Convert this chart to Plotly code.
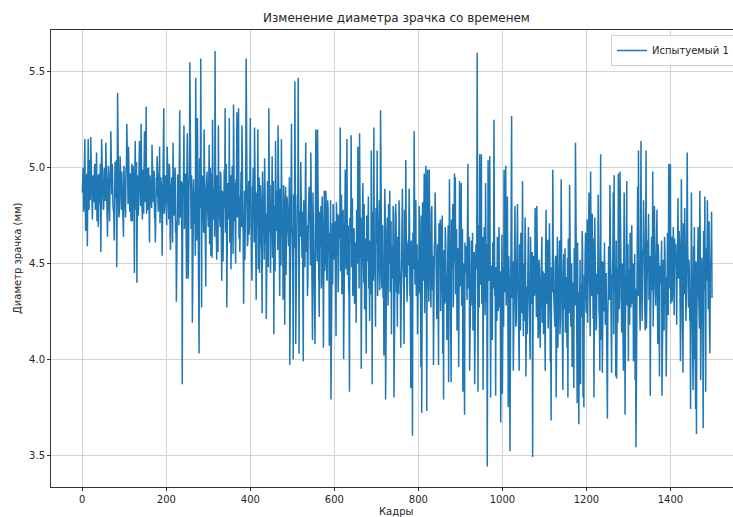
import plotly.graph_objects as go

# Pupil diameter (mm) at even frames (0, 2, 4, ...)
pupil_even = [
    4.87, 5.00, 4.80, 5.15, 4.67, 4.95, 4.59, 5.15, 4.78, 4.98, 5.16, 4.85, 4.73, 4.96, 4.82, 5.02, 4.79, 5.08, 4.86, 4.69, 4.97, 4.84, 4.56, 5.15, 4.90,
    4.78, 4.99, 4.83, 5.13, 4.88, 4.64, 5.01, 4.80, 4.94, 5.19, 4.86, 4.99, 4.77, 4.62, 5.03, 4.85, 4.48, 5.39, 4.90, 4.76, 5.06, 4.82, 4.98, 4.87, 4.64,
    4.95, 4.81, 5.00, 5.23, 4.84, 5.11, 4.90, 4.97, 4.72, 5.02, 4.86, 4.93, 4.45, 5.14, 4.83, 4.40, 4.96, 4.79, 5.14, 4.88, 5.23, 4.81, 4.99, 4.76, 5.19,
    4.85, 5.32, 4.92, 4.78, 5.00, 4.61, 4.94, 4.82, 5.12, 4.87, 4.98, 4.74, 4.61, 4.95, 5.06, 4.83, 4.97, 5.11, 4.80, 4.92, 4.54, 4.99, 5.31, 4.84, 4.96,
    4.78, 5.11, 4.86, 4.73, 4.99, 4.57, 4.90, 4.81, 5.13, 4.75, 4.95, 4.66, 4.30, 4.88, 4.96, 4.70, 5.30, 4.79, 4.93, 3.87, 4.85, 5.22, 4.72, 4.97, 4.42,
    5.18, 4.42, 4.90, 5.55, 4.68, 4.96, 4.19, 4.92, 4.71, 4.88, 5.47, 4.62, 5.26, 4.78, 4.03, 4.84, 5.57, 4.27, 4.95, 4.66, 5.20, 4.74, 4.38, 4.91, 4.80,
    4.69, 5.12, 4.82, 4.54, 4.97, 5.25, 4.73, 4.89, 5.61, 4.79, 4.52, 4.93, 5.22, 4.76, 4.69, 4.95, 4.41, 4.86, 4.70, 4.99, 5.31, 4.74, 4.27, 4.92, 4.81,
    5.26, 4.68, 4.47, 4.90, 4.77, 5.33, 4.72, 4.55, 4.94, 5.29, 4.80, 5.31, 4.85, 4.66, 4.98, 5.22, 4.71, 4.29, 4.88, 4.75, 5.57, 4.79, 4.61, 4.93, 4.70,
    5.26, 4.77, 4.41, 4.89, 4.68, 5.21, 4.74, 4.31, 4.86, 5.20, 4.72, 4.45, 4.91, 4.63, 4.24, 4.84, 4.69, 5.05, 4.60, 4.21, 4.87, 4.73, 5.31, 4.66, 4.45,
    4.79, 5.06, 4.62, 4.13, 4.80, 5.14, 4.67, 4.88, 5.22, 4.70, 4.33, 4.85, 5.15, 4.64, 4.31, 4.78, 4.18, 4.90, 4.59, 4.83, 4.66, 4.76, 3.97, 4.72, 5.23,
    4.68, 4.00, 4.79, 5.45, 4.08, 4.71, 4.86, 5.47, 4.03, 4.64, 5.03, 4.55, 4.77, 3.99, 4.69, 4.48, 5.13, 4.61, 4.33, 4.74, 4.90, 4.52, 5.08, 4.58, 4.10,
    4.71, 4.49, 4.08, 5.20, 4.62, 5.20, 4.57, 4.22, 4.66, 4.80, 4.44, 4.69, 4.06, 4.88, 4.50, 4.87, 4.41, 4.83, 4.55, 4.07, 4.63, 3.79, 4.58, 4.39, 4.80,
    4.52, 4.67, 4.12, 4.60, 4.76, 4.45, 4.70, 5.21, 4.51, 4.34, 4.66, 4.00, 4.58, 4.99, 4.47, 5.15, 4.55, 4.38, 3.83, 4.62, 5.17, 4.49, 4.33, 4.68, 4.29,
    4.61, 4.19, 4.57, 5.11, 4.46, 5.18, 4.53, 3.95, 4.60, 4.92, 4.40, 4.26, 4.63, 4.03, 4.51, 4.64, 4.37, 4.20, 4.58, 5.09, 3.87, 4.55, 5.21, 4.44, 4.17,
    4.60, 5.09, 4.48, 4.65, 4.36, 5.30, 4.47, 4.59, 4.32, 4.02, 4.89, 3.79, 4.55, 4.74, 4.28, 4.50, 4.88, 4.42, 4.13, 4.57, 4.80, 3.80, 4.49, 4.81, 4.35,
    4.17, 4.56, 4.83, 4.40, 4.06, 4.61, 4.89, 4.45, 4.08, 4.58, 5.04, 4.50, 4.37, 4.62, 4.89, 4.33, 3.85, 4.54, 3.60, 4.47, 5.19, 4.39, 4.83, 4.55, 4.13,
    4.52, 4.80, 4.34, 3.96, 3.72, 4.82, 4.41, 4.97, 4.48, 5.01, 3.73, 4.99, 4.44, 4.99, 4.51, 4.27, 4.80, 4.36, 3.97, 4.58, 4.87, 4.43, 4.21, 4.60, 3.97,
    4.49, 4.73, 4.38, 4.73, 4.03, 3.79, 4.52, 4.69, 4.30, 4.10, 4.55, 3.88, 4.94, 4.40, 3.88, 4.57, 4.81, 4.35, 4.97, 4.95, 4.46, 4.15, 4.58, 3.96, 4.93,
    4.42, 4.92, 4.36, 3.83, 4.50, 3.71, 4.45, 4.59, 4.31, 5.02, 4.47, 3.94, 4.55, 4.62, 4.28, 4.15, 4.51, 3.87, 4.44, 4.53, 5.60, 3.83, 4.48, 5.07, 4.39,
    5.07, 4.37, 3.84, 4.52, 4.43, 4.92, 4.30, 3.44, 5.04, 4.41, 5.06, 3.80, 4.49, 4.10, 4.56, 5.25, 4.33, 3.81, 4.47, 4.64, 4.25, 4.69, 4.36, 3.67, 4.44,
    3.82, 4.48, 4.99, 4.35, 5.01, 4.40, 4.85, 3.75, 4.42, 3.52, 4.38, 5.27, 4.46, 3.94, 4.50, 4.80, 4.17, 4.43, 4.81, 4.29, 3.94, 4.47, 4.66, 4.24, 4.93,
    4.12, 4.44, 4.74, 3.91, 4.38, 4.52, 4.69, 4.27, 4.00, 4.52, 4.31, 3.49, 4.54, 4.33, 4.79, 4.40, 4.80, 4.26, 4.13, 4.49, 4.06, 4.37, 4.64, 4.22, 4.13,
    4.45, 3.94, 4.78, 4.30, 4.62, 4.24, 4.71, 3.99, 3.68, 4.41, 4.99, 4.35, 4.31, 4.50, 3.80, 4.39, 4.06, 4.46, 4.62, 4.20, 4.94, 4.32, 3.84, 4.55, 4.27,
    4.14, 4.43, 4.06, 3.80, 4.37, 4.91, 4.25, 4.29, 3.96, 4.40, 3.85, 4.34, 5.13, 4.22, 3.77, 4.10, 3.66, 4.28, 3.87, 4.36, 4.67, 3.80, 3.75, 4.31, 4.66,
    4.24, 4.73, 4.30, 4.87, 4.38, 4.98, 4.33, 4.76, 4.21, 3.80, 4.74, 4.32, 4.17, 4.45, 4.86, 4.26, 3.94, 5.07, 4.35, 3.93, 4.51, 4.28, 4.41, 4.19, 3.87,
    3.69, 4.33, 4.45, 4.91, 4.29, 3.93, 4.42, 4.87, 4.96, 4.36, 3.91, 3.90, 4.48, 4.97, 4.26, 4.98, 4.39, 4.14, 4.50, 3.94, 4.87, 3.71, 4.44, 4.93, 4.30,
    3.99, 4.41, 4.66, 4.27, 4.70, 4.36, 3.99, 4.45, 3.89, 3.54, 4.38, 4.90, 5.09, 4.40, 4.15, 5.14, 4.34, 4.57, 4.83, 4.31, 4.15, 5.09, 4.47, 4.62, 4.76,
    4.37, 3.81, 4.43, 4.58, 4.98, 4.40, 4.80, 4.33, 4.48, 4.78, 4.08, 4.52, 3.91, 4.44, 4.48, 3.81, 4.15, 4.50, 4.64, 4.29, 3.91, 4.47, 4.63, 5.02, 4.39,
    5.02, 4.57, 4.30, 4.52, 4.41, 4.63, 4.52, 4.38, 4.55, 4.84, 4.45, 4.59, 3.99, 4.94, 4.36, 3.93, 4.48, 4.79, 4.31, 4.35, 5.08, 4.42, 4.52, 4.20, 3.74,
    4.87, 4.33, 3.84, 4.00, 4.45, 3.74, 3.61, 4.40, 4.69, 4.28, 4.88, 3.89, 4.44, 4.19, 3.64, 4.36, 4.85, 3.83, 4.41, 4.83, 4.26, 4.72, 4.03, 4.48, 4.77,
]

# Pupil diameter (mm) at odd frames (1, 3, 5, ...): the dense body of the band
pupil_odd = [
    4.95, 4.77, 5.01, 4.84, 4.73, 4.97, 4.90, 4.80, 5.04, 4.83, 4.99, 4.75, 4.92, 4.86, 5.00, 4.78, 4.94, 4.72, 4.96, 4.89, 4.81, 5.02, 4.77, 4.93, 4.85,
    4.79, 5.00, 4.83, 5.03, 4.75, 4.91, 4.98, 4.72, 4.95, 4.87, 5.02, 4.80, 4.76, 4.98, 4.84, 5.04, 4.82, 4.90, 4.74, 4.96, 4.99, 4.78, 4.89, 4.81, 5.01,
    4.92, 4.74, 4.98, 5.04, 4.81, 4.93, 4.77, 4.96, 4.86, 4.72, 5.01, 4.83, 4.95, 4.78, 5.03, 4.87, 4.75, 4.98, 4.90, 4.80, 5.00, 4.73, 4.93, 4.99, 4.82,
    4.94, 4.76, 5.00, 4.83, 4.72, 4.96, 4.89, 4.79, 5.03, 4.82, 4.98, 4.74, 4.91, 4.85, 4.99, 4.77, 4.93, 4.71, 4.95, 4.88, 4.80, 5.01, 4.76, 4.92, 4.84,
    4.70, 4.98, 4.76, 5.02, 4.65, 4.86, 4.95, 4.61, 4.91, 4.80, 5.00, 4.72, 4.66, 4.96, 4.76, 5.04, 4.74, 4.85, 4.63, 4.92, 4.97, 4.68, 4.84, 4.73, 4.99,
    4.86, 4.57, 4.97, 5.07, 4.68, 4.89, 4.61, 4.94, 4.76, 4.54, 5.02, 4.72, 4.91, 4.63, 5.05, 4.79, 4.59, 4.96, 4.83, 4.66, 5.00, 4.55, 4.88, 4.98, 4.70,
    4.90, 4.60, 5.00, 4.72, 4.53, 4.93, 4.81, 4.64, 5.04, 4.69, 4.96, 4.56, 4.85, 4.75, 4.98, 4.62, 4.88, 4.51, 4.92, 4.79, 4.66, 5.02, 4.59, 4.86, 4.73,
    4.61, 4.96, 4.68, 5.01, 4.55, 4.81, 4.92, 4.50, 4.87, 4.74, 4.99, 4.63, 4.56, 4.93, 4.69, 5.03, 4.66, 4.80, 4.52, 4.89, 4.95, 4.59, 4.78, 4.65, 4.97,
    4.79, 4.50, 4.90, 5.00, 4.61, 4.82, 4.54, 4.87, 4.69, 4.47, 4.95, 4.65, 4.84, 4.56, 4.98, 4.72, 4.52, 4.89, 4.76, 4.59, 4.93, 4.48, 4.81, 4.91, 4.63,
    4.83, 4.53, 4.93, 4.65, 4.46, 4.86, 4.74, 4.57, 4.97, 4.62, 4.89, 4.49, 4.78, 4.68, 4.91, 4.55, 4.81, 4.44, 4.85, 4.72, 4.59, 4.95, 4.52, 4.79, 4.66,
    4.51, 4.86, 4.58, 4.91, 4.45, 4.71, 4.82, 4.40, 4.77, 4.64, 4.89, 4.53, 4.46, 4.83, 4.59, 4.93, 4.56, 4.70, 4.42, 4.79, 4.85, 4.49, 4.68, 4.55, 4.87,
    4.69, 4.40, 4.80, 4.90, 4.51, 4.72, 4.44, 4.77, 4.59, 4.37, 4.85, 4.55, 4.74, 4.46, 4.88, 4.62, 4.42, 4.79, 4.66, 4.49, 4.83, 4.38, 4.71, 4.81, 4.53,
    4.72, 4.42, 4.82, 4.54, 4.35, 4.75, 4.63, 4.46, 4.86, 4.51, 4.78, 4.38, 4.67, 4.57, 4.80, 4.44, 4.70, 4.33, 4.74, 4.61, 4.48, 4.84, 4.41, 4.68, 4.55,
    4.43, 4.78, 4.50, 4.83, 4.37, 4.63, 4.74, 4.32, 4.69, 4.56, 4.81, 4.45, 4.38, 4.75, 4.51, 4.85, 4.48, 4.62, 4.34, 4.71, 4.77, 4.41, 4.60, 4.47, 4.79,
    4.62, 4.33, 4.73, 4.83, 4.44, 4.65, 4.37, 4.70, 4.52, 4.30, 4.78, 4.48, 4.67, 4.39, 4.81, 4.55, 4.35, 4.72, 4.59, 4.42, 4.76, 4.31, 4.64, 4.74, 4.46,
    4.64, 4.34, 4.74, 4.46, 4.27, 4.67, 4.55, 4.38, 4.78, 4.43, 4.70, 4.30, 4.59, 4.49, 4.72, 4.36, 4.62, 4.25, 4.66, 4.53, 4.40, 4.76, 4.33, 4.60, 4.47,
    4.35, 4.70, 4.42, 4.75, 4.29, 4.55, 4.66, 4.24, 4.61, 4.48, 4.73, 4.37, 4.30, 4.67, 4.43, 4.77, 4.40, 4.54, 4.26, 4.63, 4.69, 4.33, 4.52, 4.39, 4.71,
    4.54, 4.25, 4.65, 4.75, 4.36, 4.57, 4.29, 4.62, 4.44, 4.22, 4.70, 4.40, 4.59, 4.31, 4.73, 4.47, 4.27, 4.64, 4.51, 4.34, 4.68, 4.23, 4.56, 4.66, 4.38,
    4.58, 4.28, 4.68, 4.40, 4.21, 4.61, 4.49, 4.32, 4.72, 4.37, 4.64, 4.24, 4.53, 4.43, 4.66, 4.30, 4.56, 4.19, 4.60, 4.47, 4.34, 4.70, 4.27, 4.54, 4.41,
    4.29, 4.64, 4.36, 4.69, 4.23, 4.49, 4.60, 4.18, 4.55, 4.42, 4.67, 4.31, 4.24, 4.61, 4.37, 4.71, 4.34, 4.48, 4.20, 4.57, 4.63, 4.27, 4.46, 4.33, 4.65,
    4.46, 4.17, 4.57, 4.67, 4.28, 4.49, 4.21, 4.54, 4.36, 4.14, 4.62, 4.32, 4.51, 4.23, 4.65, 4.39, 4.19, 4.56, 4.43, 4.26, 4.60, 4.15, 4.48, 4.58, 4.30,
    4.50, 4.20, 4.60, 4.32, 4.13, 4.53, 4.41, 4.24, 4.64, 4.29, 4.56, 4.16, 4.45, 4.35, 4.58, 4.22, 4.48, 4.11, 4.52, 4.39, 4.26, 4.62, 4.19, 4.46, 4.33,
    4.22, 4.57, 4.29, 4.62, 4.16, 4.42, 4.53, 4.11, 4.48, 4.35, 4.60, 4.24, 4.17, 4.54, 4.30, 4.64, 4.27, 4.41, 4.13, 4.50, 4.56, 4.20, 4.39, 4.26, 4.58,
    4.42, 4.13, 4.53, 4.63, 4.24, 4.45, 4.17, 4.50, 4.32, 4.10, 4.58, 4.28, 4.47, 4.19, 4.61, 4.35, 4.15, 4.52, 4.39, 4.22, 4.56, 4.11, 4.44, 4.54, 4.26,
    4.49, 4.19, 4.59, 4.31, 4.12, 4.52, 4.40, 4.23, 4.63, 4.28, 4.55, 4.15, 4.44, 4.34, 4.57, 4.21, 4.47, 4.10, 4.51, 4.38, 4.25, 4.61, 4.18, 4.45, 4.32,
    4.24, 4.59, 4.31, 4.64, 4.18, 4.44, 4.55, 4.13, 4.50, 4.37, 4.62, 4.26, 4.19, 4.56, 4.32, 4.66, 4.29, 4.43, 4.15, 4.52, 4.58, 4.22, 4.41, 4.28, 4.60,
    4.47, 4.18, 4.58, 4.68, 4.29, 4.50, 4.22, 4.55, 4.37, 4.15, 4.63, 4.33, 4.52, 4.24, 4.66, 4.40, 4.20, 4.57, 4.44, 4.27, 4.61, 4.16, 4.49, 4.59, 4.31,
    4.54, 4.24, 4.64, 4.36, 4.17, 4.57, 4.45, 4.28, 4.68, 4.33, 4.60, 4.20, 4.49, 4.39, 4.62, 4.26, 4.52, 4.15, 4.56, 4.43, 4.30, 4.66, 4.23, 4.50, 4.37,
    4.29, 4.64, 4.36, 4.69, 4.23, 4.49, 4.60, 4.18, 4.55, 4.42, 4.67, 4.31, 4.24, 4.61, 4.37, 4.71, 4.34, 4.48, 4.20, 4.57, 4.63, 4.27, 4.46, 4.33, 4.65,
    4.48, 4.19, 4.59, 4.69, 4.30, 4.51, 4.23, 4.56, 4.38, 4.16, 4.64, 4.34, 4.53, 4.25, 4.67, 4.41, 4.21, 4.58, 4.45, 4.28, 4.62, 4.17, 4.50, 4.60, 4.32,
]

# interleave into one series, frame by frame
n = min(len(pupil_even), len(pupil_odd))
frames, pupil_mm = [], []
for i in range(n):
    frames += [2 * i, 2 * i + 1]
    pupil_mm += [pupil_even[i], pupil_odd[i]]

series_name = "Испытуемый 1"
title_text = "Изменение диаметра зрачка со временем"
x_title = "Кадры"
y_title = "Диаметр зрачка (мм)"
x_ticks = [0, 200, 400, 600, 800, 1000, 1200, 1400]
y_ticks = [3.5, 4.0, 4.5, 5.0, 5.5]

W, H = 733, 517
L, R, T, B = 51, 0, 30, 30
font_family = "DejaVu Sans"
text_color = "#262626"

fig = go.Figure()
fig.add_trace(go.Scatter(
    x=frames, y=pupil_mm, mode="lines", name=series_name,
    line=dict(color="#1f77b4", width=1.5),
))

fig.update_layout(
    width=W, height=H,
    margin=dict(l=L, r=R, t=T, b=B, autoexpand=False),
    paper_bgcolor="white", plot_bgcolor="white",
    font=dict(family=font_family, size=10, color=text_color),
    showlegend=True,
    legend=dict(
        x=(611 - L) / (W - L - R), y=(H - B - 35) / (H - T - B),
        xanchor="left", yanchor="top",
        bgcolor="rgba(255,255,255,0.85)", bordercolor="#d0d0d0", borderwidth=1,
        font=dict(family=font_family, size=10, color=text_color),
        itemwidth=30,
    ),
    xaxis=dict(
        range=[-74.5, 1549], tickvals=x_ticks, ticktext=[str(v) for v in x_ticks],
        showgrid=True, gridcolor="#d3d3d3", gridwidth=1, zeroline=False,
        showline=True, linecolor="#333333", linewidth=1, mirror=True,
        ticks="outside", ticklen=3, tickcolor="#333333",
        tickfont=dict(size=10, color=text_color), automargin=False,
    ),
    yaxis=dict(
        range=[3.333, 5.719], tickvals=y_ticks, ticktext=[f"{v:.1f}" for v in y_ticks],
        showgrid=True, gridcolor="#d3d3d3", gridwidth=1, zeroline=False,
        showline=True, linecolor="#333333", linewidth=1, mirror=False,
        ticks="outside", ticklen=3, tickcolor="#333333",
        tickfont=dict(size=10, color=text_color), automargin=False,
    ),
    annotations=[
        dict(text=title_text, xref="paper", yref="paper",
             x=(396 - L) / (W - L - R), y=(H - B - 18) / (H - T - B),
             xanchor="center", yanchor="middle", showarrow=False,
             font=dict(size=12, family=font_family, color=text_color)),
        dict(text=x_title, xref="paper", yref="paper",
             x=(396 - L) / (W - L - R), y=(H - B - 511) / (H - T - B),
             xanchor="center", yanchor="middle", showarrow=False,
             font=dict(size=10, family=font_family, color=text_color)),
        dict(text=y_title, xref="paper", yref="paper",
             x=(17 - L) / (W - L - R), y=(H - B - 258) / (H - T - B),
             xanchor="center", yanchor="middle", textangle=-90, showarrow=False,
             font=dict(size=10, family=font_family, color=text_color)),
    ],
)

fig.write_html("out.html")
